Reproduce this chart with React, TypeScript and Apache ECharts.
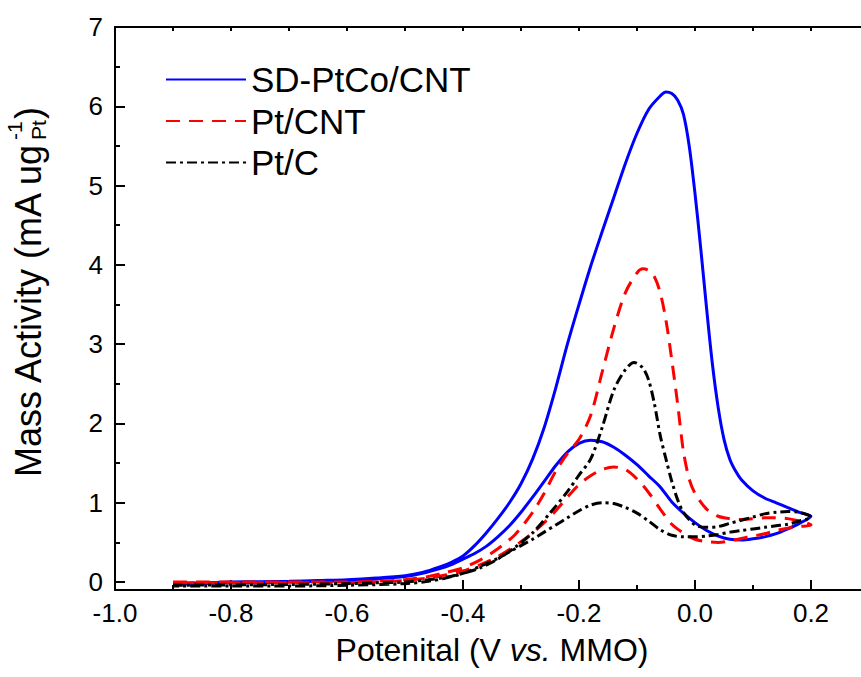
import React, { useEffect, useRef } from "react";
import * as echarts from "echarts";

// ---- Data ----
const seriesNames = ["SD-PtCo/CNT", "Pt/CNT", "Pt/C"];

// SD-PtCo/CNT forward scan (potential V, mass activity)
const sdFwdV = [-0.9, -0.85, -0.8, -0.75, -0.7, -0.65, -0.6, -0.55, -0.5, -0.47, -0.44, -0.42, -0.4, -0.38, -0.36, -0.34, -0.32, -0.3, -0.28, -0.26, -0.24, -0.22, -0.2, -0.18, -0.16, -0.14, -0.12, -0.1, -0.08, -0.06, -0.05, -0.04, -0.03, -0.02, -0.01, 0.0, 0.01, 0.02, 0.03, 0.04, 0.05, 0.06, 0.07, 0.08, 0.1, 0.12, 0.14, 0.16, 0.18, 0.2];
const sdFwdI = [-0.02, -0.01, 0.0, 0.005, 0.01, 0.02, 0.03, 0.05, 0.08, 0.12, 0.19, 0.25, 0.33, 0.46, 0.62, 0.8, 1.0, 1.24, 1.55, 1.95, 2.45, 3.0, 3.5, 3.98, 4.42, 4.85, 5.28, 5.66, 5.96, 6.13, 6.18, 6.16, 6.08, 5.9, 5.5, 4.9, 4.2, 3.45, 2.75, 2.2, 1.8, 1.55, 1.4, 1.29, 1.15, 1.06, 1.0, 0.94, 0.88, 0.83];
// SD-PtCo/CNT reverse scan
const sdRevV = [0.18, 0.16, 0.14, 0.12, 0.1, 0.08, 0.06, 0.04, 0.02, 0.0, -0.02, -0.04, -0.06, -0.08, -0.1, -0.12, -0.14, -0.16, -0.18, -0.2, -0.22, -0.24, -0.26, -0.28, -0.3, -0.32, -0.34, -0.36, -0.38, -0.4, -0.42, -0.44, -0.47, -0.5, -0.55, -0.6, -0.65, -0.7, -0.75, -0.8, -0.85, -0.9];
const sdRevI = [0.74, 0.67, 0.61, 0.57, 0.545, 0.53, 0.54, 0.58, 0.65, 0.75, 0.87, 1.01, 1.2, 1.34, 1.48, 1.6, 1.7, 1.77, 1.79, 1.75, 1.64, 1.47, 1.27, 1.07, 0.88, 0.71, 0.57, 0.45, 0.36, 0.29, 0.22, 0.17, 0.11, 0.07, 0.04, 0.02, 0.01, 0.0, -0.01, -0.01, -0.02, -0.03];

// Pt/CNT forward scan
const cntFwdV = [-0.9, -0.85, -0.8, -0.7, -0.6, -0.55, -0.5, -0.46, -0.43, -0.4, -0.37, -0.34, -0.31, -0.28, -0.26, -0.24, -0.22, -0.2, -0.18, -0.16, -0.14, -0.12, -0.1, -0.09, -0.08, -0.07, -0.06, -0.05, -0.04, -0.03, -0.02, -0.01, 0.0, 0.02, 0.04, 0.06, 0.08, 0.1, 0.12, 0.14, 0.16, 0.18, 0.2];
const cntFwdI = [0.0, 0.0, 0.0, 0.0, 0.0, 0.01, 0.03, 0.07, 0.12, 0.18, 0.28, 0.42, 0.6, 0.88, 1.12, 1.4, 1.62, 1.8, 2.1, 2.65, 3.2, 3.65, 3.9, 3.95, 3.93, 3.85, 3.65, 3.3, 2.8, 2.25, 1.65, 1.3, 1.12, 0.92, 0.83, 0.8, 0.79, 0.8, 0.81, 0.81, 0.8, 0.77, 0.72];
// Pt/CNT reverse scan
const cntRevV = [0.18, 0.16, 0.14, 0.12, 0.1, 0.08, 0.06, 0.04, 0.02, 0.0, -0.02, -0.04, -0.06, -0.08, -0.1, -0.12, -0.14, -0.16, -0.18, -0.2, -0.22, -0.24, -0.26, -0.28, -0.3, -0.32, -0.34, -0.37, -0.4, -0.43, -0.46, -0.5, -0.6, -0.7, -0.8, -0.9];
const cntRevI = [0.7, 0.68, 0.65, 0.61, 0.58, 0.55, 0.52, 0.5, 0.51, 0.54, 0.62, 0.73, 0.92, 1.13, 1.3, 1.42, 1.45, 1.42, 1.34, 1.23, 1.07, 0.9, 0.75, 0.62, 0.51, 0.41, 0.32, 0.22, 0.14, 0.09, 0.05, 0.02, -0.01, -0.01, -0.01, -0.01];

// Pt/C forward scan
const pcFwdV = [-0.9, -0.8, -0.7, -0.6, -0.55, -0.5, -0.46, -0.43, -0.4, -0.37, -0.34, -0.31, -0.28, -0.25, -0.22, -0.2, -0.18, -0.16, -0.14, -0.12, -0.105, -0.09, -0.08, -0.07, -0.06, -0.05, -0.04, -0.03, -0.02, 0.0, 0.02, 0.04, 0.06, 0.08, 0.1, 0.12, 0.14, 0.16, 0.18, 0.2];
const pcFwdI = [-0.04, -0.035, -0.03, -0.02, -0.01, 0.0, 0.03, 0.06, 0.11, 0.18, 0.29, 0.44, 0.62, 0.87, 1.14, 1.35, 1.55, 1.95, 2.42, 2.68, 2.77, 2.7, 2.55, 2.25, 1.85, 1.55, 1.27, 1.04, 0.88, 0.72, 0.69, 0.7, 0.74, 0.78, 0.82, 0.86, 0.88, 0.89, 0.88, 0.82];
// Pt/C reverse scan
const pcRevV = [0.18, 0.16, 0.14, 0.12, 0.1, 0.08, 0.06, 0.04, 0.02, 0.0, -0.02, -0.04, -0.06, -0.08, -0.1, -0.12, -0.14, -0.16, -0.18, -0.2, -0.22, -0.24, -0.26, -0.28, -0.3, -0.32, -0.34, -0.37, -0.4, -0.43, -0.46, -0.5, -0.6, -0.7, -0.8, -0.9];
const pcRevI = [0.77, 0.73, 0.71, 0.69, 0.67, 0.65, 0.63, 0.6, 0.58, 0.57, 0.57, 0.59, 0.66, 0.77, 0.87, 0.94, 0.99, 1.0, 0.97, 0.9, 0.81, 0.72, 0.63, 0.54, 0.46, 0.38, 0.3, 0.2, 0.11, 0.05, 0.01, -0.02, -0.04, -0.05, -0.05, -0.05];

// Tick positions / labels
const xMajorTicks = [-1.0, -0.8, -0.6, -0.4, -0.2, 0.0, 0.2];
const xMinorTicks = [-0.9, -0.7, -0.5, -0.3, -0.1, 0.1];
const xTopTicks = [-0.9, -0.8, -0.7, -0.6, -0.5, -0.4, -0.3, -0.2, -0.1, 0.0, 0.1, 0.2];
const yMajorTicks = [0, 1, 2, 3, 4, 5, 6, 7];
const yMinorTicks = [0.5, 1.5, 2.5, 3.5, 4.5, 5.5, 6.5];

const FONT = "'Liberation Sans', Arial, sans-serif";

function loop(fv: number[], fi: number[], rv: number[], ri: number[]) {
  const pts: number[][] = [];
  fv.forEach((v, k) => pts.push([v, fi[k]]));
  rv.forEach((v, k) => pts.push([v, ri[k]]));
  return pts;
}

export default function App() {
  const ref = useRef<HTMLDivElement>(null);
  useEffect(() => {
    if (!ref.current) return;
    const chart = echarts.init(ref.current, null, { renderer: "svg" });
    const axisLineStyle = { color: "#000", width: 2 };
    const baseX = { type: "value", min: -1.0, max: 0.3, splitLine: { show: false } };
    const baseY = { type: "value", min: -0.1, max: 7, splitLine: { show: false } };
    const TF = 36; // y title font size
    const mainW = 9.335 * TF;
    const subW = 0.945 * 21;
    const totalW = mainW + subW + 2 + 0.333 * TF;
    const x0 = -totalW / 2;
    const option: any = {
      animation: false,
      backgroundColor: "#fff",
      grid: { left: 115, top: 27, width: 754, height: 563, containLabel: false },
      legend: {
        data: seriesNames,
        orient: "vertical",
        left: 160,
        top: 57,
        itemWidth: 80,
        itemHeight: 14,
        itemGap: 6.5,
        itemStyle: { opacity: 0 },
        textStyle: { fontSize: 35, fontFamily: FONT, color: "#000", lineHeight: 35 },
      },
      xAxis: [
        {
          ...baseX,
          position: "bottom",
          axisLine: { show: true, onZero: false, lineStyle: axisLineStyle },
          axisTick: { show: true, inside: true, length: 10, lineStyle: axisLineStyle, customValues: xMajorTicks },
          axisLabel: {
            show: true,
            customValues: xMajorTicks,
            margin: 10,
            fontSize: 26,
            color: "#000",
            fontFamily: FONT,
            formatter: (v: number) => (Math.abs(v) < 1e-9 ? "0.0" : v.toFixed(1)),
          },
        },
        {
          ...baseX,
          position: "bottom",
          axisLine: { show: false, onZero: false },
          axisTick: { show: true, inside: true, length: 5, lineStyle: axisLineStyle, customValues: xMinorTicks },
          axisLabel: { show: false },
        },
        {
          ...baseX,
          position: "top",
          axisLine: { show: true, onZero: false, lineStyle: axisLineStyle },
          axisTick: { show: true, inside: true, length: 4, lineStyle: axisLineStyle, customValues: xTopTicks },
          axisLabel: { show: false },
        },
      ],
      yAxis: [
        {
          ...baseY,
          position: "left",
          axisLine: { show: true, onZero: false, lineStyle: axisLineStyle },
          axisTick: { show: true, inside: true, length: 10, lineStyle: axisLineStyle, customValues: yMajorTicks },
          axisLabel: {
            show: true,
            customValues: yMajorTicks,
            margin: 12,
            fontSize: 26,
            color: "#000",
            fontFamily: FONT,
            formatter: (v: number) => String(Math.round(v)),
          },
        },
        {
          ...baseY,
          position: "left",
          axisLine: { show: false, onZero: false },
          axisTick: { show: true, inside: true, length: 5, lineStyle: axisLineStyle, customValues: yMinorTicks },
          axisLabel: { show: false },
        },
        {
          ...baseY,
          position: "right",
          axisLine: { show: true, onZero: false, lineStyle: axisLineStyle },
          axisTick: { show: false },
          axisLabel: { show: false },
        },
      ],
      graphic: [
        {
          type: "text",
          x: 492,
          y: 650,
          style: {
            text: "{n|Potenital (V }{i|vs.}{n| MMO)}",
            align: "center",
            verticalAlign: "middle",
            rich: {
              n: { fontSize: 32, fontFamily: FONT, fill: "#000", lineHeight: 32 },
              i: { fontSize: 32, fontFamily: FONT, fontStyle: "italic", fill: "#000", lineHeight: 32 },
            },
          },
        },
        {
          type: "group",
          x: 28,
          y: 292,
          rotation: Math.PI / 2,
          children: [
            {
              type: "text",
              x: x0,
              y: 0,
              style: { text: "Mass Activity (mA ug", fontSize: TF, fontFamily: FONT, fill: "#000", align: "left", verticalAlign: "middle" },
            },
            {
              type: "text",
              x: x0 + mainW + 1,
              y: -14,
              style: { text: "-1", fontSize: 21, fontFamily: FONT, fill: "#000", align: "left", verticalAlign: "middle" },
            },
            {
              type: "text",
              x: x0 + mainW + 1,
              y: 10,
              style: { text: "Pt", fontSize: 21, fontFamily: FONT, fill: "#000", align: "left", verticalAlign: "middle" },
            },
            {
              type: "text",
              x: x0 + mainW + subW + 2,
              y: 0,
              style: { text: ")", fontSize: TF, fontFamily: FONT, fill: "#000", align: "left", verticalAlign: "middle" },
            },
          ],
        },
      ],
      series: [
        {
          name: seriesNames[0],
          type: "line",
          data: loop(sdFwdV, sdFwdI, sdRevV, sdRevI),
          showSymbol: false,
          symbol: "none",
          smooth: 0.3,
          itemStyle: { color: "#0000FF" },
          lineStyle: { color: "#0000FF", width: 3, type: "solid" },
        },
        {
          name: seriesNames[1],
          type: "line",
          data: loop(cntFwdV, cntFwdI, cntRevV, cntRevI),
          showSymbol: false,
          symbol: "none",
          smooth: 0.3,
          itemStyle: { color: "#FF0000" },
          lineStyle: { color: "#FF0000", width: 3, type: [14, 9] },
        },
        {
          name: seriesNames[2],
          type: "line",
          data: loop(pcFwdV, pcFwdI, pcRevV, pcRevI),
          showSymbol: false,
          symbol: "none",
          smooth: 0.3,
          itemStyle: { color: "#000000" },
          lineStyle: { color: "#000000", width: 3, type: [10, 4, 3, 4] },
        },
      ],
    };
    chart.setOption(option);
    return () => chart.dispose();
  }, []);
  return (
    <div style={{ position: "absolute", left: 0, top: 0, width: 861, height: 677, overflow: "hidden", background: "#fff" }}>
      <div ref={ref} style={{ width: 900, height: 677 }} />
    </div>
  );
}
